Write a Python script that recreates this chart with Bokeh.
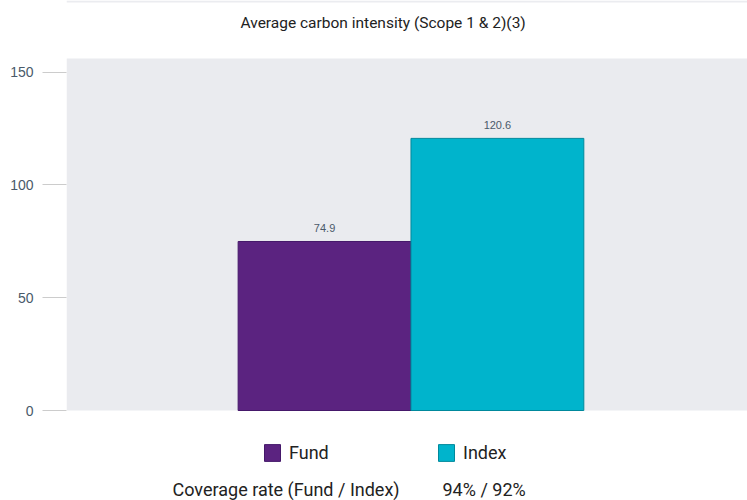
from bokeh.plotting import figure
from bokeh.models import (Range1d, FactorRange, Legend, LegendItem, Label,
                          ColumnDataSource, FixedTicker, LabelSet, BoxAnnotation)
from bokeh.core.properties import value
from bokeh.transform import dodge
from bokeh.embed import file_html
from bokeh.resources import INLINE

categories = ["Fund", "Index"]
values = [74.9, 120.6]
fill_colors = ["#5b2380", "#00b4cc"]
line_colors = ["#45186a", "#00899c"]
value_labels = ["74.9", "120.6"]
y_ticks = [0, 50, 100, 150]
y_max = 156
title_text = "Average carbon intensity (Scope 1 & 2)(3)"
coverage_label = "Coverage rate (Fund / Index)"
coverage_value = "94% / 92%"

FONT = "Roboto"

# layout (pixels): plot area from y=58 to y=410 on a 500px canvas
W, H = 747, 500
PLOT_TOP, PLOT_BOTTOM = 58, 410
ppu = (PLOT_BOTTOM - PLOT_TOP) / y_max
y_start = -(H - PLOT_BOTTOM) / ppu
y_end = y_max + PLOT_TOP / ppu

src = ColumnDataSource(dict(cat=categories, val=values, fill=fill_colors,
                            line=line_colors, lab=value_labels))

xr = FactorRange(factors=categories, range_padding=0.97,
                 range_padding_units="absolute")
p = figure(width=W, height=H, x_range=xr,
           y_range=Range1d(y_start, y_end),
           output_backend="svg", toolbar_location=None,
           min_border_left=66, min_border_right=0,
           min_border_top=0, min_border_bottom=0)

p.background_fill_color = "white"
p.border_fill_color = "white"
p.outline_line_color = None
p.xgrid.visible = False
p.ygrid.visible = False
p.xaxis.visible = False

# grey plotting area
p.add_layout(BoxAnnotation(bottom=0, top=y_max, fill_color="#eaebef",
                           fill_alpha=1, line_alpha=0, level="underlay"))
# thin grey rule at the very top
p.add_layout(BoxAnnotation(bottom=y_end - 2 / ppu, fill_color="#ebecf0",
                           fill_alpha=1, line_alpha=0, level="underlay"))

ax = p.yaxis[0]
ax.ticker = FixedTicker(ticks=y_ticks)
ax.axis_line_color = None
ax.major_tick_out = 24
ax.major_tick_in = 0
ax.major_tick_line_color = "#cccccc"
ax.minor_tick_line_color = None
ax.major_label_text_font = "Liberation Sans"
ax.major_label_text_font_size = "14px"
ax.major_label_text_color = "#4a5a6a"
ax.major_label_standoff = 9

SHIFT = 0.023
r = p.vbar(x=dodge("cat", SHIFT, range=xr), top="val", width=1.0,
           fill_color="fill", line_color="line", line_width=1, source=src)

labels = LabelSet(x=dodge("cat", SHIFT, range=xr), y="val", text="lab",
                  source=src, y_offset=13,
                  text_align="center", text_baseline="middle",
                  text_font=value("Liberation Sans"), text_font_size=value("11px"),
                  text_color="#4a5a6a")
p.add_layout(labels)

p.add_layout(Label(x=174, y=H - 22, x_units="screen", y_units="screen",
                   text=title_text, text_font=FONT, text_font_size="15.5px",
                   text_color="#222222", text_baseline="middle"))

legend = Legend(items=[LegendItem(label=categories[0], renderers=[r], index=0),
                       LegendItem(label=categories[1], renderers=[r], index=1)],
                location=(196, 37), orientation="horizontal",
                glyph_width=20, glyph_height=21, label_standoff=7,
                label_width=147, label_height=21, spacing=0, padding=0, margin=0,
                label_text_font=FONT, label_text_font_size="18px",
                label_text_color="#222222", label_text_baseline="middle",
                background_fill_alpha=0, border_line_alpha=0)
p.add_layout(legend, "center")

p.add_layout(Label(x=106, y=11, x_units="screen", y_units="screen",
                   text=coverage_label, text_font=FONT, text_font_size="18px",
                   text_color="#222222", text_baseline="middle"))
p.add_layout(Label(x=376, y=11, x_units="screen", y_units="screen",
                   text=coverage_value, text_font=FONT, text_font_size="18px",
                   text_color="#222222", text_baseline="middle"))

open("out.html", "w").write(file_html(p, INLINE))
